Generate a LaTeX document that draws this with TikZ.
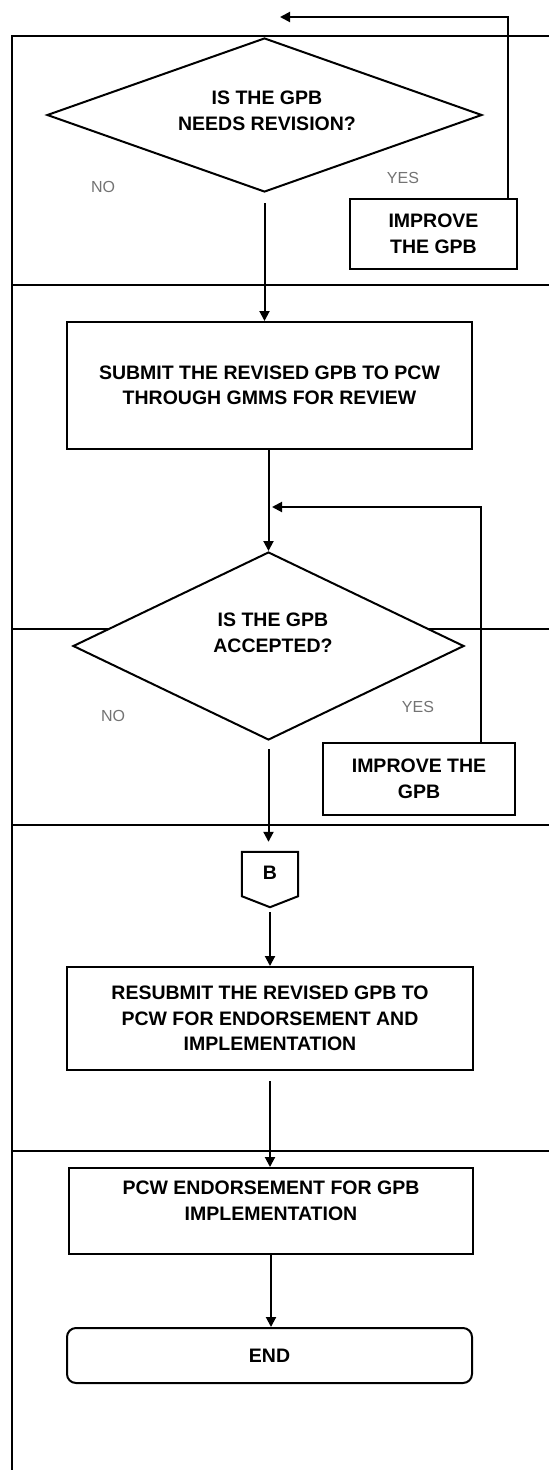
\documentclass[tikz,border=0pt]{standalone}
\usepackage{fontspec}
\setmainfont{Liberation Sans}
\usetikzlibrary{shapes.geometric,arrows.meta}
\newcommand\boxfont{\fontsize{19.5}{25.5}\selectfont\bfseries}
\newcommand\ansfont{\fontsize{16}{19}\selectfont}
\tikzset{
  rule/.style={line width=2pt},
  proc/.style={draw, line width=2pt, fill=white, inner sep=0pt, align=center, font=\boxfont},
  dec/.style={diamond, draw, line width=2pt, fill=white, inner sep=0pt},
  txt/.style={align=center, font=\boxfont, inner sep=0pt},
  ans/.style={font=\ansfont, text=black!55, inner sep=0pt},
  flow/.style={line width=2pt, -{Triangle[length=10pt,width=10pt]}}
}
\begin{document}
\begin{tikzpicture}[x=1pt,y=-1pt]
\useasboundingbox (0,0) rectangle (549,1470);
\fill[white] (0,0) rectangle (549,1470);

% lane frame
\draw[rule] (12,1470) -- (12,36) -- (549,36);
\draw[rule] (12,285) -- (549,285);
\draw[rule] (12,629) -- (549,629);
\draw[rule] (12,825) -- (549,825);
\draw[rule] (12,1151) -- (549,1151);

% first decision
\node[dec, minimum width=435pt, minimum height=154pt] (d1) at (264.5,115) {};
\node[txt] (d1t) at (267,111) {IS THE GPB\\NEEDS REVISION?};
\node[ans] (no1) at (103,187) {NO};
\node[ans] (yes1) at (403,178) {YES};
\node[proc, minimum width=167pt, minimum height=70pt] (imp1) at (433.5,234) {IMPROVE\\THE GPB};

% submission
\node[proc, minimum width=405pt, minimum height=127pt] (sub) at (269.5,385.5) {SUBMIT THE REVISED GPB TO PCW\\THROUGH GMMS FOR REVIEW};

% second decision
\node[dec, minimum width=391pt, minimum height=188pt] (d2) at (268.5,646) {};
\node[txt] (d2t) at (273,633) {IS THE GPB\\ACCEPTED?};
\node[ans] (no2) at (113,716) {NO};
\node[ans] (yes2) at (418,707) {YES};
\node[proc, minimum width=192pt, minimum height=72pt] (imp2) at (419,779) {IMPROVE THE\\GPB};

% off-page connector
\node[inner sep=0pt, minimum width=56pt, minimum height=55pt] (b) at (270,879.5) {};
\draw[rule, fill=white] (b.north west) -- (b.north east) -- ([yshift=11pt]b.south east)
  -- (b.south) -- ([yshift=11pt]b.south west) -- cycle;
\node[txt] (bt) at (270,873) {B};

% final steps
\node[proc, minimum width=406pt, minimum height=103pt] (re) at (270,1018.5) {RESUBMIT THE REVISED GPB TO\\PCW FOR ENDORSEMENT AND\\IMPLEMENTATION};
\node[proc, minimum width=404pt, minimum height=86pt] (pcw) at (271,1211) {};
\node[txt] (pcwt) at (271,1201) {PCW ENDORSEMENT FOR GPB\\IMPLEMENTATION};
\node[proc, rounded corners=9pt, minimum width=405pt, minimum height=55pt] (end) at (269.5,1355.5) {END};

% connectors
\coordinate (top1) at (280,17);
\coordinate (top2) at (272,507);
\draw[flow, shorten <=10pt] (d1.south) -- (d1.south |- sub.north);
\draw[flow] (imp1.north east) ++(-10,0) |- (top1);
\draw[flow] (d2.north |- sub.south) -- (d2.north);
\draw[flow] (imp2.north east) ++(-35,0) |- (top2);
\draw[flow, shorten <=8pt, shorten >=10pt] (d2.south) -- (d2.south |- b.north);
\draw[flow, shorten <=5pt] (b.south) -- (b.south |- re.north);
\draw[flow, shorten <=10pt] (re.south) -- (re.south |- pcw.north);
\draw[flow] (pcw.south) -- (pcw.south |- end.north);
\end{tikzpicture}
\end{document}
